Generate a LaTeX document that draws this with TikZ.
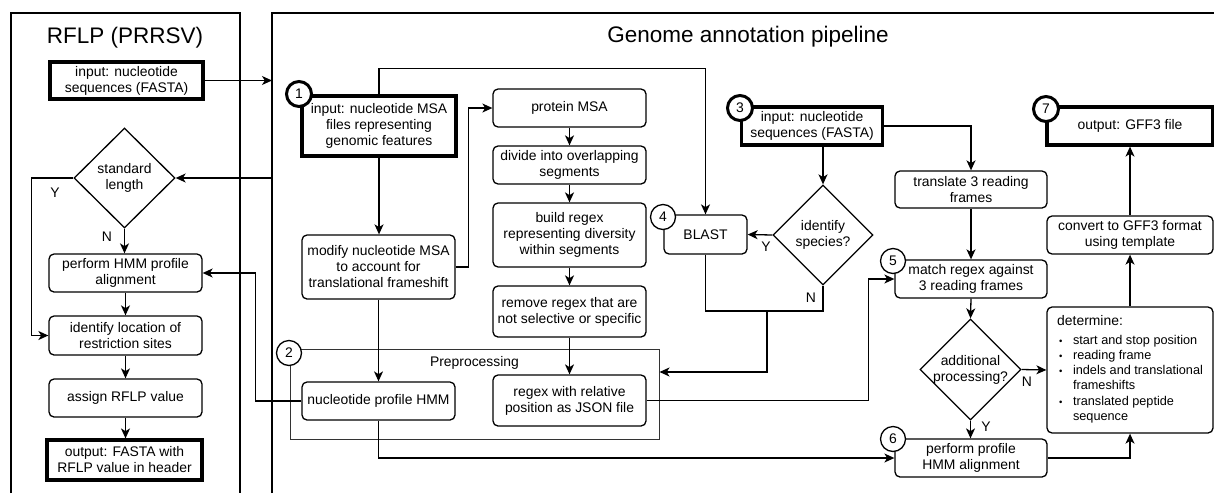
\documentclass[tikz,border=0pt]{standalone}
\usepackage{fontspec}
\setmainfont{Liberation Sans}
\usetikzlibrary{shapes.geometric,arrows.meta,calc}
\newcommand{\bfnt}{\fontsize{13.9}{16}\selectfont}
\newcommand{\lfnt}{\fontsize{12.7}{15.3}\selectfont}
\newcommand{\tfnt}{\fontsize{22.5}{26}\selectfont}
\newcommand{\sbul}{\scalebox{0.75}{\textbullet}}
\begin{document}
\begin{tikzpicture}[x=1pt,y=-1pt,
  box/.style={draw, rounded corners=5pt, line width=1.3pt, align=center, inner sep=0pt, font=\bfnt},
  tbox/.style={draw, line width=3.2pt, align=center, inner sep=0pt, font=\bfnt},
  num/.style={circle, draw, fill=white, line width=1.3pt, minimum size=25pt, inner sep=0pt, font=\bfnt},
  tnum/.style={num, line width=3pt},
  dia/.style={diamond, draw, line width=1.3pt, inner sep=0pt, aspect=1},
  arr/.style={line width=1.3pt, -{Stealth[length=10pt,width=9pt,inset=2.8pt]}},
  ln/.style={line width=1.3pt},
  lbl/.style={font=\bfnt, inner sep=0pt},
]
\useasboundingbox (0,0) rectangle (1214,493);
% panels
\draw[ln] (11,493) -- (11,13) -- (240,13) -- (240,493);
\draw[ln] (272,493) -- (272,13) -- (1214,13);
\node[font=\tfnt] (t1) at (125,38) {RFLP (PRRSV)};
\node[font=\tfnt] (t2) at (748,37) {Genome annotation pipeline};
\coordinate (rpA) at (272,80.5);
\coordinate (rpB) at (272,178);

% left panel nodes
\node[tbox, minimum width=153pt, minimum height=37pt] (linp) at (126.5,80.5) {input: nucleotide\\sequences (FASTA)};
\node[dia, minimum width=101pt, minimum height=100pt, label={[lbl,align=center]center:standard\\length}] (sl) at (124.5,178) {};
\node[box, minimum width=153pt, minimum height=38pt] (phmm) at (125.5,273) {perform HMM profile\\alignment};
\node[box, minimum width=153pt, minimum height=39pt] (idl) at (125.5,335.5) {identify location of\\restriction sites};
\node[box, minimum width=153pt, minimum height=38pt] (asg) at (125.5,398) {assign RFLP value};
\node[tbox, minimum width=155pt, minimum height=40pt] (lout) at (124.5,460) {output: FASTA with\\RFLP value in header};

% preprocessing frame
\node[draw=black!80, line width=1pt, minimum width=369pt, minimum height=90pt, inner sep=0pt] (pre) at (474.5,394) {};
\node[lbl] (prel) at (474.5,363) {Preprocessing};

% right panel nodes
\node[tbox, minimum width=154pt, minimum height=60pt] (msa) at (379,126) {input: nucleotide MSA\\files representing\\genomic features};
\node[box, minimum width=153pt, minimum height=64pt] (mod) at (378.5,267) {modify nucleotide MSA\\to account for\\translational frameshift};
\node[box, minimum width=153pt, minimum height=38pt, fill=white] (hmm) at (378.5,401) {nucleotide profile HMM};
\node[box, minimum width=153pt, minimum height=38pt] (prot) at (569.5,108) {protein MSA};
\node[box, minimum width=153pt, minimum height=38pt] (div) at (569.5,165) {divide into overlapping\\segments};
\node[box, minimum width=153pt, minimum height=64pt] (bld) at (569.5,235) {build regex\\representing diversity\\within segments};
\node[box, minimum width=153pt, minimum height=51pt] (rem) at (569.5,311.5) {remove regex that are\\not selective or specific};
\node[box, minimum width=153pt, minimum height=51pt, fill=white] (json) at (569.5,400.5) {regex with relative\\position as JSON file};
\node[box, minimum width=83pt, minimum height=39pt] (blast) at (705.5,234.5) {BLAST};
\node[tbox, minimum width=141pt, minimum height=38pt] (in3) at (812,126) {input: nucleotide\\sequences (FASTA)};
\node[dia, minimum width=100pt, minimum height=100pt, label={[lbl,align=center]center:identify\\species?}] (sp) at (823,235) {};
\node[box, minimum width=152pt, minimum height=37pt] (tr) at (971,189.5) {translate 3 reading\\frames};
\node[box, minimum width=152pt, minimum height=38pt] (match) at (971,279) {match regex against\\3 reading frames};
\node[dia, minimum width=101pt, minimum height=101pt, label={[lbl,align=center]center:additional\\processing?}] (ap) at (970.5,369.5) {};
\node[box, minimum width=152pt, minimum height=38pt] (pph) at (971,458) {perform profile\\HMM alignment};
\node[box, minimum width=166pt, minimum height=126pt] (det) at (1130,370) {};
\node[anchor=base west, font=\bfnt, inner sep=0pt] (detT) at (1057,325) {determine:};
\node[anchor=base west, font=\lfnt, inner sep=0pt] (detL) at (1059,344) {\begin{tabular}[t]{@{}l@{\hspace{10.5pt}}l@{}}
\sbul & start and stop position\\
\sbul & reading frame\\
\sbul & indels and translational\\
 & frameshifts\\
\sbul & translated peptide\\
 & sequence
\end{tabular}};
\node[box, minimum width=166pt, minimum height=38pt] (conv) at (1130,235) {convert to GFF3 format\\using template};
\node[tbox, minimum width=166pt, minimum height=38pt] (gout) at (1130,126) {output: GFF3 file};

% labels
\node[lbl] (ly1) at (55,193) {Y};
\node[lbl] (ln1) at (107,237) {N};
\node[lbl] (ly2) at (766,247) {Y};
\node[lbl] (ln2) at (811,298) {N};
\node[lbl] (ln3) at (1027,382) {N};
\node[lbl] (ly3) at (986,427) {Y};

% connectors left
\draw[arr] (linp.east) -- (rpA);
\draw[arr] (rpB) -- (sl.east);
\draw[arr] (sl.south) -- (sl.south |- phmm.north);
\draw[arr] (sl.west) -- ++(-42,0) |- (idl.west);
\draw[arr] (phmm.south) -- (idl.north);
\draw[arr] (idl.south) -- (asg.north);
\draw[arr] (asg.south) -- (asg.south |- lout.north);
\draw[arr] (hmm.west) -- ++(-46,0) |- (phmm.east);

% connectors right
\draw[arr] (msa.north) -- ++(0,-26) -| (blast.north);
\draw[arr] (msa.south) -- (msa.south |- mod.north);
\draw[arr] (mod.south) -- (hmm.north);
\draw[arr] (mod.east) -- ++(13,0) |- (prot.west);
\draw[arr] (prot.south) -- (div.north);
\draw[arr] (div.south) -- (bld.north);
\draw[arr] (bld.south) -- (rem.north);
\draw[arr] (rem.south) -- (json.north);
\draw[arr] (in3.south -| sp.north) -- (sp.north);
\draw[arr] (sp.west) -- (blast.east);
\coordinate (j1) at (705.5,311);
\coordinate (j2) at (767,311);
\draw[ln] (blast.south) -- (j1) -| (sp.south);
\draw[arr] (j2) |- ($(pre.east)+(0,-22)$);
\draw[arr] (in3.east) -| (tr.north);
\draw[arr] (tr.south) -- (match.north);
\draw[arr] (json.east) -- ++(222,0) |- (match.west);
\draw[arr] (match.south) -- (ap.north);
\draw[arr] (ap.east) -- (det.west);
\draw[arr] (ap.south) -- (ap.south |- pph.north);
\draw[arr] (hmm.south) |- (pph.west);
\draw[arr] (pph.east) -| (det.south);
\draw[arr] (det.north) -- (conv.south);
\draw[arr] (conv.north) -- (gout.south);

% number circles
\node[tnum] (c1) at (299,94) {1};
\node[num] (c2) at (289,353) {2};
\node[tnum] (c3) at (740,108) {3};
\node[num] (c4) at (663,217) {4};
\node[num] (c5) at (893,261) {5};
\node[num] (c6) at (893,439) {6};
\node[tnum] (c7) at (1046,109) {7};
\end{tikzpicture}
\end{document}
